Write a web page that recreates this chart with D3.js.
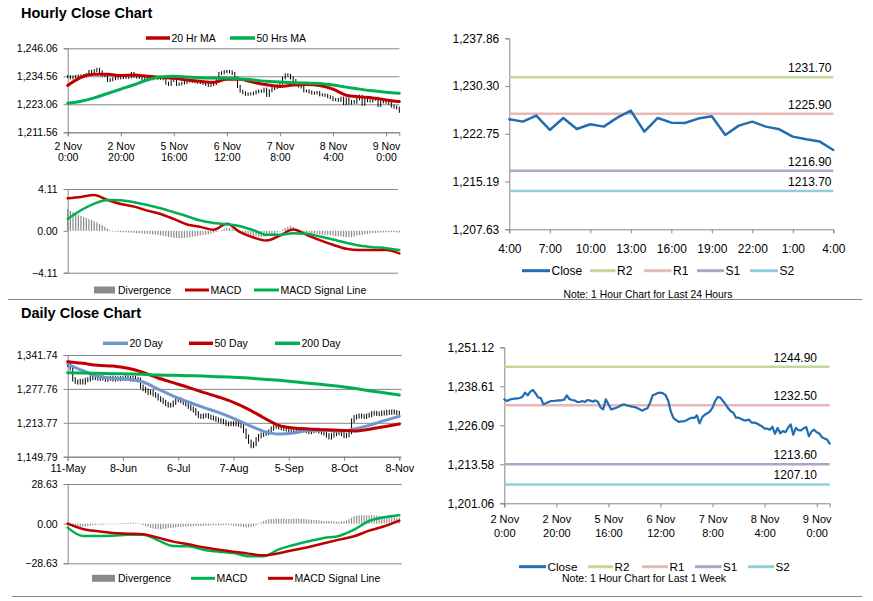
<!DOCTYPE html>
<html lang="en">
<head>
<meta charset="UTF-8">
<title>Hourly and Daily Close Charts</title>
<script src="https://d3js.org/d3.v7.min.js"></script>
<style>
  body { margin: 0; background: #fff; }
  svg { font-family: "Liberation Sans", Arial, sans-serif; }
  svg text { fill: #000; }
  .axis path, .axis line { stroke: #868686; }
  .grid line { stroke: #868686; }
  .grid path { display: none; }
</style>
</head>
<body>
<svg width="873" height="601"></svg>
<script>
// ---------- hourly data (2 Nov 0:00 .. 9 Nov, one value per hour) ----------
const hourlyClose = [
  1234.43, 1233.89, 1234.32, 1234.53, 1234.64, 1234.75, 1234.85, 1235.28, 1236.57, 1235.71,
  1236.89, 1237.42, 1236.35, 1235.07, 1234.85, 1232.82, 1233.14, 1233.57, 1233.89, 1233.89,
  1234.00, 1234.11, 1234.11, 1234.32, 1235.71, 1234.53, 1234.21, 1234.11, 1233.57, 1233.57,
  1233.89, 1233.57, 1234.21, 1234.00, 1233.68, 1234.11, 1233.57, 1231.75, 1231.22, 1234.43,
  1232.82, 1231.22, 1231.43, 1231.75, 1232.07, 1232.61, 1232.82, 1232.50, 1232.29, 1232.07,
  1231.97, 1231.64, 1231.22, 1230.79, 1231.22, 1231.54, 1233.36, 1235.71, 1236.03, 1236.46,
  1236.57, 1236.35, 1235.71, 1233.89, 1230.36, 1228.43, 1227.79, 1227.15, 1227.36, 1227.36,
  1227.68, 1228.22, 1228.54, 1228.43, 1229.29, 1226.72, 1228.65, 1229.50, 1229.93, 1230.57,
  1231.75, 1233.89, 1235.18, 1234.96, 1233.89, 1232.82, 1231.54, 1230.57, 1230.15, 1228.54,
  1228.54, 1228.11, 1227.68, 1227.68, 1227.90, 1226.94, 1226.94, 1226.72, 1226.19, 1225.76,
  1225.01, 1225.04, 1224.67, 1225.62, 1223.35, 1225.25, 1223.51, 1224.25, 1223.88, 1225.30,
  1226.41, 1223.09, 1225.25, 1224.51, 1224.46, 1225.15, 1225.52, 1222.56, 1224.04, 1224.67,
  1223.88, 1223.46, 1222.30, 1221.88, 1221.51, 1220.19
];
// moving averages and MACD, one value every 5 hours
const hourlyStep = 5;
const hourlyMA20 = [1230.82, 1234.14, 1235.39, 1235.39, 1234.84, 1235.11, 1234.56, 1234.14, 1233.73, 1233.04,
  1232.48, 1232.07, 1233.31, 1233.31, 1232.07, 1231.09, 1230.40, 1230.96, 1231.23, 1230.82,
  1229.29, 1226.80, 1226.11, 1225.69, 1224.86, 1224.17];
const hourlyMA50 = [1223.47, 1224.30, 1225.69, 1227.49, 1229.29, 1231.09, 1233.04, 1234.28, 1234.56, 1234.28,
  1234.01, 1233.87, 1233.87, 1233.45, 1233.04, 1232.48, 1232.20, 1231.93, 1231.79, 1231.65,
  1230.96, 1230.12, 1229.29, 1228.60, 1228.05, 1227.63];
const hourlyMACD = [3.20, 3.33, 3.52, 3.03, 2.64, 2.38, 1.99, 1.66, 1.17, 0.62,
  0.39, 0.10, 0.69, -0.13, -0.65, -0.95, -0.46, 0.13, -0.39, -0.91,
  -1.37, -1.76, -1.89, -1.89, -1.89, -2.22];
const hourlySignal = [1.17, 2.02, 2.67, 3.03, 3.00, 2.81, 2.54, 2.22, 1.83, 1.44,
  1.01, 0.78, 0.65, 0.46, 0.07, -0.39, -0.39, -0.23, -0.29, -0.55,
  -0.85, -1.17, -1.44, -1.60, -1.70, -1.89];
const hourlyDiv = [
  2.15, 1.96, 1.83, 1.70, 1.57, 1.45, 1.35, 1.27, 1.16, 1.06,
  0.95, 0.83, 0.69, 0.57, 0.41, 0.23, 0.08, -0.02, -0.07, -0.10,
  -0.13, -0.14, -0.15, -0.16, -0.18, -0.20, -0.23, -0.24, -0.26, -0.28,
  -0.29, -0.31, -0.34, -0.36, -0.41, -0.44, -0.49, -0.54, -0.59, -0.64,
  -0.69, -0.70, -0.72, -0.72, -0.69, -0.67, -0.64, -0.59, -0.55, -0.51,
  -0.46, -0.41, -0.36, -0.33, -0.26, -0.18, -0.11, -0.03, 0.08, 0.21,
  0.29, 0.29, 0.21, 0.10, -0.05, -0.16, -0.26, -0.34, -0.39, -0.46,
  -0.51, -0.54, -0.57, -0.59, -0.58, -0.55, -0.49, -0.41, -0.31, -0.16,
  -0.03, 0.13, 0.29, 0.41, 0.49, 0.39, 0.24, 0.10, -0.07, -0.15,
  -0.21, -0.24, -0.28, -0.29, -0.33, -0.36, -0.38, -0.39, -0.39, -0.42,
  -0.46, -0.49, -0.52, -0.55, -0.59, -0.62, -0.62, -0.62, -0.55, -0.47,
  -0.41, -0.38, -0.33, -0.29, -0.24, -0.21, -0.20, -0.18, -0.16, -0.15,
  -0.13, -0.13, -0.13, -0.13, -0.15, -0.16
];
const hourlyTicks = [0, 20, 40, 60, 80, 100, 120];
const hourlyTickLabels = ["2 Nov|0:00", "2 Nov|20:00", "5 Nov|16:00", "6 Nov|12:00", "7 Nov|8:00", "8 Nov|4:00", "9 Nov|0:00"];
const hourlyYTicks = [1211.56, 1223.06, 1234.56, 1246.06];
const hourlyMacdTicks = [-4.11, 0, 4.11];

// last 24 hours
const last24Labels = ["4:00", "7:00", "10:00", "13:00", "16:00", "19:00", "22:00", "1:00", "4:00"];
const last24YTicks = [1207.63, 1215.19, 1222.75, 1230.30, 1237.86];
const pivots24 = [["R2", 1231.70], ["R1", 1225.90], ["S1", 1216.90], ["S2", 1213.70]];

// last week
const weekYTicks = [1201.06, 1213.58, 1226.09, 1238.61, 1251.12];
const pivotsWeek = [["R2", 1244.90], ["R1", 1232.50], ["S1", 1213.60], ["S2", 1207.10]];

// ---------- daily data (11-May .. 8-Nov) ----------
const dailyClose = [
  1322.9, 1316.6, 1295.8, 1291.4, 1290.1, 1292.6, 1290.1, 1294.5, 1295.8, 1299.6,
  1298.3, 1300.8, 1297.1, 1299.6, 1297.7, 1295.2, 1297.1, 1298.3, 1295.8, 1297.7,
  1296.4, 1297.7, 1297.1, 1298.9, 1297.7, 1295.8, 1298.3, 1296.4, 1295.2, 1281.9,
  1277.6, 1274.4, 1270.6, 1271.9, 1267.5, 1265.0, 1259.9, 1256.8, 1253.0, 1249.2,
  1246.7, 1247.3, 1251.7, 1256.8, 1258.0, 1254.9, 1251.7, 1248.6, 1244.2, 1240.4,
  1237.3, 1231.6, 1226.6, 1225.3, 1227.2, 1227.8, 1225.3, 1223.4, 1222.2, 1219.7,
  1218.4, 1217.1, 1215.2, 1212.1, 1211.5, 1212.7, 1211.5, 1213.4, 1210.2, 1207.7,
  1198.9, 1187.6, 1178.1, 1169.9, 1173.7, 1182.5, 1188.8, 1191.3, 1193.2, 1194.5,
  1197.0, 1202.7, 1206.4, 1207.7, 1205.2, 1203.9, 1202.7, 1201.4, 1200.2, 1198.9,
  1197.6, 1198.3, 1200.2, 1201.4, 1200.2, 1198.3, 1196.4, 1198.3, 1199.5, 1200.2,
  1197.6, 1195.7, 1193.8, 1190.1, 1186.3, 1190.1, 1192.6, 1194.5, 1195.7, 1192.6,
  1188.8, 1190.7, 1196.4, 1217.8, 1224.1, 1226.0, 1227.2, 1226.0, 1225.3, 1227.2,
  1228.5, 1231.6, 1232.2, 1231.0, 1230.4, 1232.9, 1231.6, 1234.1, 1232.9, 1234.8,
  1233.5, 1232.2, 1229.1
];
// moving averages and MACD, one value every 6 days
const dailyStep = 6;
const dailyMA20 = [1324.7, 1312.2, 1301.5, 1297.7, 1295.8, 1290.7, 1277.5, 1264.3, 1253.0, 1242.9,
  1233.5, 1222.2, 1209.6, 1197.6, 1192.6, 1194.5, 1199.5, 1200.2, 1197.6, 1202.0,
  1208.9, 1217.8, 1226.0];
const dailyMA50 = [1329.2, 1326.0, 1322.2, 1320.9, 1316.6, 1309.0, 1298.3, 1289.5, 1280.7, 1271.3,
  1262.5, 1252.4, 1239.2, 1223.4, 1209.0, 1203.9, 1202.0, 1200.8, 1199.5, 1198.3,
  1201.4, 1206.4, 1211.5];
const dailyMA200 = [1308.4, 1307.7, 1307.1, 1306.5, 1305.9, 1305.2, 1304.0, 1303.4, 1302.7, 1302.1,
  1300.8, 1299.6, 1298.3, 1295.8, 1293.9, 1291.4, 1288.2, 1285.7, 1282.6, 1278.8,
  1274.4, 1270.6, 1266.2];
const dailyMACD = [-2.89, -8.90, -8.90, -8.66, -7.94, -7.94, -12.03, -16.12, -16.36, -18.77,
  -20.21, -21.17, -23.58, -23.58, -18.53, -15.40, -12.75, -10.35, -8.90, -4.33,
  1.92, 4.57, 6.02];
const dailySignal = [0, -3.85, -5.53, -6.74, -7.22, -7.70, -10.11, -12.99, -14.92, -17.08,
  -18.77, -20.21, -21.65, -22.86, -21.41, -19.01, -16.84, -14.20, -11.55, -9.14,
  -5.05, -1.92, 2.17];
const dailyDiv = [
  -0.72, -1.44, -2.41, -2.41, -2.65, -2.41, -2.17, -1.92, -1.68, -1.44,
  -1.20, -0.96, -0.72, -0.72, -0.72, -0.48, -0.48, -0.24, -0.24, 0,
  0, 0.24, 0.24, 0.48, 0.48, 0.72, 0.72, 0.48, 0.24, -0.24,
  -0.96, -1.68, -2.41, -3.13, -3.61, -3.85, -4.09, -4.09, -3.85, -3.61,
  -3.37, -3.13, -2.89, -2.65, -2.41, -2.41, -2.17, -2.17, -1.92, -1.92,
  -1.92, -1.68, -1.68, -1.68, -1.44, -1.44, -1.44, -1.20, -1.20, -1.20,
  -1.20, -1.20, -0.96, -0.96, -0.96, -1.20, -1.44, -1.68, -1.92, -2.17,
  -2.41, -2.65, -2.65, -2.41, -1.92, -1.20, 0, 0.96, 1.92, 2.65,
  3.13, 3.37, 3.37, 3.61, 3.61, 3.61, 3.61, 3.37, 3.37, 3.37,
  3.61, 3.61, 3.61, 3.37, 3.37, 3.13, 2.89, 2.89, 2.65, 2.65,
  2.41, 2.17, 1.92, 1.92, 1.92, 1.68, 1.68, 1.44, 1.44, 1.68,
  1.92, 2.41, 3.37, 4.33, 5.29, 5.77, 6.02, 6.02, 6.02, 6.02,
  6.02, 6.02, 5.77, 5.77, 5.77, 5.53, 5.53, 5.29, 5.05, 4.81,
  4.57, 4.33, 4.33
];
const dailyTicks = [0, 22, 44, 66, 88, 110, 132];
const dailyTickLabels = ["11-May", "8-Jun", "6-Jul", "7-Aug", "5-Sep", "8-Oct", "8-Nov"];
const dailyYTicks = [1149.79, 1213.77, 1277.76, 1341.74];
const dailyMacdTicks = [-28.63, 0, 28.63];

// ---------- drawing ----------
const svg = d3.select("svg");
const fmt = d3.format(",.2f");
const RED = "#c00000", GREEN = "#00b050", BLUE20 = "#7096cd", CLOSE = "#1f6db3", DIVG = "#8a8a8a";
const pivotColor = { R2: "#c4d79b", R1: "#e6b9b8", S1: "#b3a2c7", S2: "#93cddd" };

function leftAxis(y, x0, ticks, size, format) {
  const g = svg.append("g").attr("class", "axis").attr("transform", `translate(${x0},0)`)
    .call(d3.axisLeft(y).tickValues(ticks).tickFormat(format || fmt).tickSize(4).tickPadding(6));
  g.selectAll("text").attr("font-size", size).attr("font-family", null);
  return g;
}
function grid(y, x0, x1, ticks) {
  svg.append("g").attr("class", "grid").attr("transform", `translate(${x0},0)`)
    .call(d3.axisLeft(y).tickValues(ticks).tickSize(-(x1 - x0)).tickFormat(""));
}
function bottomAxis(x, y0, ticks, labels, size, pad, lineGap) {
  const g = svg.append("g").attr("class", "axis").attr("transform", `translate(0,${y0})`)
    .call(d3.axisBottom(x).tickValues(ticks).tickSize(4).tickPadding(pad).tickFormat((d, i) => labels[i]));
  g.selectAll("text").attr("font-size", size).attr("font-family", null).each(function () {
    const t = d3.select(this), parts = t.text().split("|");
    if (parts.length < 2) return;
    t.text(null);
    parts.forEach((p, k) => t.append("tspan").attr("x", 0).attr("dy", k ? lineGap + "em" : "0.71em").text(p));
  });
  return g;
}
function line(data, step, x, y, color, w, curve) {
  svg.append("path").datum(data.map((v, i) => [i * step, v]))
    .attr("fill", "none").attr("stroke", color).attr("stroke-width", w)
    .attr("stroke-linejoin", "round").attr("stroke-linecap", "round")
    .attr("d", d3.line().x(d => x(d[0])).y(d => y(d[1])).curve(curve || d3.curveLinear));
}
function closeBars(closes, x, y, ext) {
  svg.append("g").selectAll("line").data(closes).join("line")
    .attr("x1", (d, i) => x(i)).attr("x2", (d, i) => x(i))
    .attr("y1", (d, i) => Math.min(y(i ? closes[i - 1] : d), y(d)) - ext)
    .attr("y2", (d, i) => Math.max(y(i ? closes[i - 1] : d), y(d)) + ext)
    .attr("stroke", "#000").attr("stroke-width", 1);
}
function divBars(vals, x, y, w) {
  svg.append("g").selectAll("rect").data(vals).join("rect")
    .attr("x", (d, i) => x(i) - w / 2).attr("width", w)
    .attr("y", d => Math.min(y(0), y(d))).attr("height", d => Math.max(0.6, Math.abs(y(d) - y(0))))
    .attr("fill", DIVG);
}
function legendLine(x1, x2, y, color, label, size, w) {
  svg.append("line").attr("x1", x1).attr("x2", x2).attr("y1", y).attr("y2", y)
    .attr("stroke", color).attr("stroke-width", w || 3);
  svg.append("text").attr("x", x2 + 1.5).attr("y", y).attr("dy", "0.35em").attr("font-size", size).text(label);
}
function legendRect(x1, x2, y, label, size) {
  svg.append("rect").attr("x", x1).attr("y", y - 3.5).attr("width", x2 - x1).attr("height", 7).attr("fill", DIVG);
  svg.append("text").attr("x", x2 + 3).attr("y", y).attr("dy", "0.35em").attr("font-size", size).text(label);
}
function title(x, y, label) {
  svg.append("text").attr("x", x).attr("y", y).attr("font-size", 14.5).attr("font-weight", "bold").text(label);
}
function note(cx, y, label, width) {
  svg.append("text").attr("x", cx).attr("y", y).attr("dy", "0.35em").attr("text-anchor", "middle")
    .attr("font-size", 10.5).attr("font-family", "'Liberation Sans Narrow', 'Arial Narrow', sans-serif")
    .attr("textLength", width).attr("lengthAdjust", "spacingAndGlyphs").text(label);
}
function pivots(list, x0, x1, y, labelX, size) {
  list.forEach(([k, v]) => {
    svg.append("line").attr("x1", x0).attr("x2", x1).attr("y1", y(v)).attr("y2", y(v))
      .attr("stroke", pivotColor[k]).attr("stroke-width", 2.5);
    svg.append("text").attr("x", labelX).attr("y", y(v) - 5).attr("text-anchor", "end")
      .attr("font-size", size).text(v.toFixed(2));
  });
}

// separators
svg.append("line").attr("x1", 8).attr("x2", 862).attr("y1", 299.5).attr("y2", 299.5).attr("stroke", "#868686");
svg.append("line").attr("x1", 12).attr("x2", 862).attr("y1", 596.5).attr("y2", 596.5).attr("stroke", "#868686");

// ===== Hourly close chart =====
title(21, 18, "Hourly Close Chart");
const xH = d3.scaleLinear().domain([0, 125]).range([67.7, 399.3]);
const yH = d3.scaleLinear().domain([1211.56, 1246.06]).range([132.3, 48.3]);
grid(yH, 67.7, 399.5, hourlyYTicks);
leftAxis(yH, 67.7, hourlyYTicks, 10.5);
bottomAxis(xH, 132.3, hourlyTicks, hourlyTickLabels, 10.5, 6, 1.05);
closeBars(hourlyClose, xH, yH, 1.5);
line(hourlyMA20, hourlyStep, xH, yH, RED, 3, d3.curveMonotoneX);
line(hourlyMA50, hourlyStep, xH, yH, GREEN, 3, d3.curveMonotoneX);
legendLine(146, 170, 38, RED, "20 Hr MA", 10.5, 3.5);
legendLine(230, 255, 38, GREEN, "50 Hrs MA", 10.5, 3.5);

// ===== Hourly MACD =====
const yHM = d3.scaleLinear().domain([-4.11, 4.11]).range([272.7, 189]);
grid(yHM, 67.7, 398, [-4.11, 4.11]);
leftAxis(yHM, 67.7, hourlyMacdTicks, 10.5, d3.format(".2f"));
divBars(hourlyDiv, xH, yHM, 1.2);
line(hourlyMACD, hourlyStep, xH, yHM, RED, 2.5, d3.curveMonotoneX);
line(hourlySignal, hourlyStep, xH, yHM, GREEN, 2.5, d3.curveMonotoneX);
legendRect(94, 115, 290, "Divergence", 10.5);
legendLine(185, 209, 290, RED, "MACD", 10.5);
legendLine(254, 279, 290, GREEN, "MACD Signal Line", 10.5);

// ===== Last 24 hours =====
const x24 = d3.scaleLinear().domain([0, 24]).range([509.3, 833.3]);
const y24 = d3.scaleLinear().domain([1207.63, 1237.86]).range([229.3, 38.3]);
leftAxis(y24, 509.3, last24YTicks, 12);
bottomAxis(x24, 229.3, d3.range(0, 25, 3), last24Labels, 12, 11, 1.1);
pivots(pivots24, 509.3, 833.3, y24, 831.5, 12);
line(hourlyClose.slice(-25), 1, x24, y24, CLOSE, 2.5);
legendLine(522, 550, 270.7, CLOSE, "Close", 12);
legendLine(590, 615.5, 270.7, pivotColor.R2, "R2", 12);
legendLine(644, 671.5, 270.7, pivotColor.R1, "R1", 12);
legendLine(697, 724, 270.7, pivotColor.S1, "S1", 12);
legendLine(750, 778, 270.7, pivotColor.S2, "S2", 12);
note(648, 294, "Note: 1 Hour Chart for Last 24 Hours", 169);

// ===== Daily close chart =====
title(21, 318, "Daily Close Chart");
const xD = d3.scaleLinear().domain([0, 132]).range([67.7, 399.3]);
const yD = d3.scaleLinear().domain([1149.79, 1341.74]).range([456.7, 355]);
grid(yD, 67.7, 401.7, dailyYTicks);
leftAxis(yD, 67.7, dailyYTicks, 10.5);
bottomAxis(xD, 456.7, dailyTicks, dailyTickLabels, 10.8, 3.5, 1.1);
closeBars(dailyClose, xD, yD, 2.2);
line(dailyMA20, dailyStep, xD, yD, BLUE20, 3, d3.curveMonotoneX);
line(dailyMA50, dailyStep, xD, yD, RED, 3, d3.curveMonotoneX);
line(dailyMA200, dailyStep, xD, yD, GREEN, 3, d3.curveMonotoneX);
legendLine(103, 128, 343.3, BLUE20, "20 Day", 10.5, 3.5);
legendLine(189, 213, 343.3, RED, "50 Day", 10.5, 3.5);
legendLine(275, 300, 343.3, GREEN, "200 Day", 10.5, 3.5);

// ===== Daily MACD =====
const yDM = d3.scaleLinear().domain([-28.63, 28.63]).range([563.3, 484]);
grid(yDM, 67.7, 401.7, [-28.63, 28.63]);
leftAxis(yDM, 67.7, dailyMacdTicks, 10.5, d3.format(".2f"));
divBars(dailyDiv, xD, yDM, 1.1);
line(dailyMACD, dailyStep, xD, yDM, GREEN, 2.5, d3.curveMonotoneX);
line(dailySignal, dailyStep, xD, yDM, RED, 2.5, d3.curveMonotoneX);
legendRect(92, 115, 578.3, "Divergence", 10.5);
legendLine(191, 215, 578.3, GREEN, "MACD", 10.5);
legendLine(268, 293, 578.3, RED, "MACD Signal Line", 10.5);

// ===== Last week =====
const xW = d3.scaleLinear().domain([0, 125]).range([504.3, 829.7]);
const yW = d3.scaleLinear().domain([1201.06, 1251.12]).range([503.3, 347.3]);
leftAxis(yW, 504.3, weekYTicks, 12);
bottomAxis(xW, 503.3, hourlyTicks, hourlyTickLabels, 11, 8, 1.3);
pivots(pivotsWeek, 504.3, 829.7, yW, 817, 12);
line(hourlyClose, 1, xW, yW, CLOSE, 2.2);
legendLine(519, 546, 566.7, CLOSE, "Close", 11.7);
legendLine(588, 613, 566.7, pivotColor.R2, "R2", 11.7);
legendLine(642, 668, 566.7, pivotColor.R1, "R1", 11.7);
legendLine(695, 721.5, 566.7, pivotColor.S1, "S1", 11.7);
legendLine(748, 774, 566.7, pivotColor.S2, "S2", 11.7);
note(644, 578.7, "Note: 1 Hour Chart for Last 1 Week", 164);
</script>
</body>
</html>
